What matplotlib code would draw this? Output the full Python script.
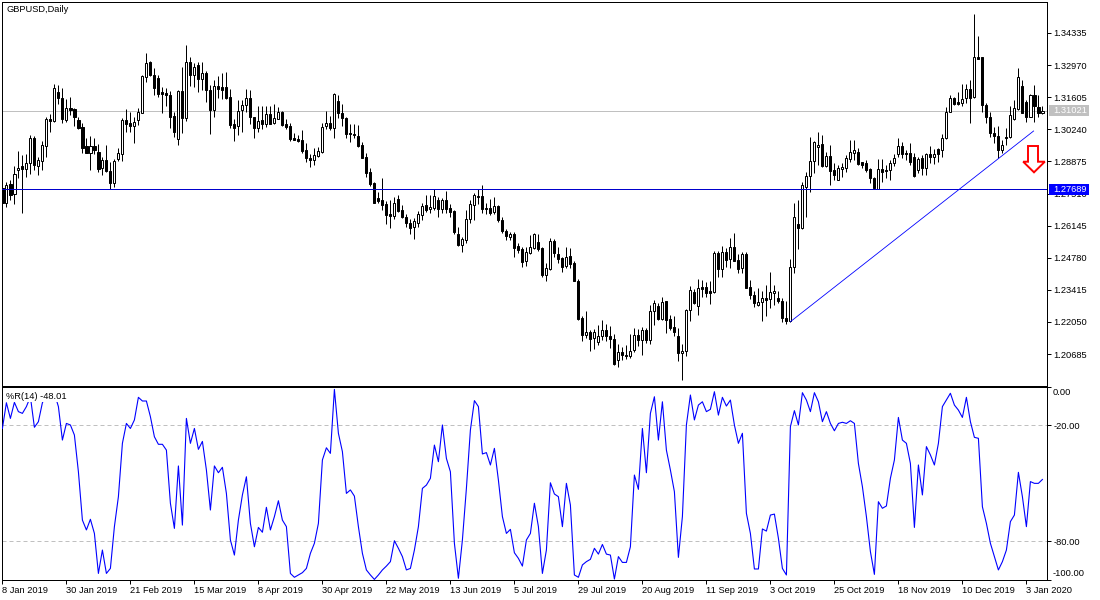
import matplotlib

matplotlib.use("Agg")
import matplotlib.pyplot as plt
from matplotlib.patches import Polygon, Rectangle

plt.rcParams["font.family"] = ["Liberation Sans", "DejaVu Sans"]

# daily GBPUSD candles
highs = [
    1.2809, 1.2802, 1.2809, 1.2868, 1.2932, 1.2915, 1.2919, 1.3000, 1.2997, 1.2908,
    1.2975, 1.3078, 1.3089, 1.3216, 1.3213, 1.3198, 1.3152, 1.3160, 1.3115, 1.3078,
    1.3050, 1.2986, 1.2996, 1.2986, 1.2960, 1.2908, 1.2958, 1.2887, 1.2897, 1.2943,
    1.3071, 1.3111, 1.3099, 1.3075, 1.3113, 1.3255, 1.3350, 1.3316, 1.3284, 1.3255,
    1.3206, 1.3200, 1.3187, 1.3099, 1.3189, 1.3288, 1.3383, 1.3330, 1.3305, 1.3310,
    1.3312, 1.3274, 1.3213, 1.3234, 1.3251, 1.3262, 1.3267, 1.3194, 1.3067, 1.3149,
    1.3149, 1.3194, 1.3189, 1.3078, 1.3121, 1.3121, 1.3123, 1.3121, 1.3132, 1.3119,
    1.3102, 1.3067, 1.3050, 1.3007, 1.3000, 1.3021, 1.2965, 1.2919, 1.2943, 1.2948,
    1.3050, 1.3102, 1.3081, 1.3177, 1.3170, 1.3132, 1.3075, 1.3045, 1.3047, 1.3043,
    1.2969, 1.2925, 1.2858, 1.2800, 1.2759, 1.2817, 1.2720, 1.2724, 1.2735, 1.2745,
    1.2703, 1.2663, 1.2642, 1.2646, 1.2677, 1.2712, 1.2745, 1.2745, 1.2769, 1.2735,
    1.2731, 1.2762, 1.2705, 1.2681, 1.2608, 1.2568, 1.2681, 1.2724, 1.2752, 1.2769,
    1.2786, 1.2710, 1.2728, 1.2735, 1.2703, 1.2650, 1.2601, 1.2589, 1.2589, 1.2540,
    1.2523, 1.2523, 1.2575, 1.2584, 1.2578, 1.2523, 1.2457, 1.2561, 1.2558, 1.2523,
    1.2483, 1.2523, 1.2518, 1.2462, 1.2387, 1.2231, 1.2252, 1.2171, 1.2174, 1.2192,
    1.2214, 1.2195, 1.2188, 1.2154, 1.2112, 1.2100, 1.2107, 1.2154, 1.2178, 1.2174,
    1.2183, 1.2178, 1.2277, 1.2297, 1.2285, 1.2311, 1.2294, 1.2235, 1.2231, 1.2178,
    1.2112, 1.2259, 1.2358, 1.2344, 1.2388, 1.2384, 1.2374, 1.2377, 1.2507, 1.2507,
    1.2528, 1.2518, 1.2561, 1.2584, 1.2494, 1.2504, 1.2501, 1.2384, 1.2338, 1.2348,
    1.2338, 1.2362, 1.2416, 1.2362, 1.2338, 1.2306, 1.2292, 1.2472, 1.2710, 1.2724,
    1.2802, 1.2844, 1.2990, 1.2976, 1.3011, 1.3000, 1.2929, 1.2958, 1.2880, 1.2873,
    1.2880, 1.2915, 1.2979, 1.2979, 1.2943, 1.2887, 1.2894, 1.2858, 1.2823, 1.2897,
    1.2897, 1.2873, 1.2894, 1.2919, 1.2986, 1.2968, 1.2936, 1.2965, 1.2922, 1.2908,
    1.2915, 1.2922, 1.2951, 1.2939, 1.2943, 1.3004, 1.3118, 1.3170, 1.3163, 1.3184,
    1.3217, 1.3217, 1.3234, 1.3514, 1.3421, 1.3333, 1.3135, 1.3099, 1.3033, 1.3036,
    1.2979, 1.3028, 1.3121, 1.3149, 1.3284, 1.3234, 1.3149, 1.3173, 1.3213, 1.3170, 1.3123,
]
lows = [
    1.2695, 1.2695, 1.2724, 1.2707, 1.2816, 1.2667, 1.2823, 1.2834, 1.2851, 1.2830,
    1.2851, 1.2908, 1.3014, 1.3057, 1.3132, 1.3050, 1.3053, 1.3085, 1.3038, 1.3024,
    1.2922, 1.2922, 1.2851, 1.2919, 1.2841, 1.2830, 1.2843, 1.2769, 1.2780, 1.2891,
    1.2891, 1.3014, 1.3014, 1.2965, 1.3041, 1.3095, 1.3227, 1.3251, 1.3170, 1.3163,
    1.3095, 1.3121, 1.3028, 1.2990, 1.2958, 1.3007, 1.3058, 1.3208, 1.3206, 1.3181,
    1.3191, 1.3142, 1.3002, 1.3078, 1.3156, 1.3152, 1.3153, 1.3028, 1.2976, 1.3000,
    1.3014, 1.3099, 1.3047, 1.2985, 1.3014, 1.3026, 1.3033, 1.3047, 1.3047, 1.3067,
    1.3038, 1.3026, 1.2975, 1.2979, 1.2972, 1.2925, 1.2887, 1.2865, 1.2873, 1.2905,
    1.2922, 1.3026, 1.3019, 1.2985, 1.3074, 1.3036, 1.2985, 1.2968, 1.2986, 1.2948,
    1.2901, 1.2823, 1.2783, 1.2710, 1.2712, 1.2681, 1.2623, 1.2606, 1.2643, 1.2674,
    1.2646, 1.2610, 1.2579, 1.2558, 1.2610, 1.2639, 1.2674, 1.2670, 1.2681, 1.2652,
    1.2670, 1.2667, 1.2653, 1.2579, 1.2528, 1.2504, 1.2542, 1.2627, 1.2639, 1.2705,
    1.2670, 1.2664, 1.2660, 1.2663, 1.2629, 1.2585, 1.2554, 1.2554, 1.2483, 1.2497,
    1.2440, 1.2443, 1.2494, 1.2514, 1.2507, 1.2398, 1.2381, 1.2426, 1.2479, 1.2455,
    1.2419, 1.2433, 1.2433, 1.2377, 1.2214, 1.2122, 1.2136, 1.2083, 1.2090, 1.2105,
    1.2126, 1.2122, 1.2096, 1.2022, 1.2015, 1.2044, 1.2046, 1.2051, 1.2079, 1.2103,
    1.2065, 1.2114, 1.2110, 1.2192, 1.2211, 1.2211, 1.2156, 1.2171, 1.2143, 1.2037,
    1.1959, 1.2058, 1.2209, 1.2280, 1.2235, 1.2309, 1.2313, 1.2282, 1.2330, 1.2398,
    1.2394, 1.2440, 1.2436, 1.2462, 1.2415, 1.2415, 1.2348, 1.2303, 1.2270, 1.2273,
    1.2207, 1.2228, 1.2263, 1.2277, 1.2285, 1.2204, 1.2197, 1.2204, 1.2412, 1.2514,
    1.2599, 1.2653, 1.2756, 1.2840, 1.2873, 1.2865, 1.2863, 1.2788, 1.2809, 1.2809,
    1.2823, 1.2843, 1.2887, 1.2894, 1.2873, 1.2858, 1.2844, 1.2795, 1.2769, 1.2769,
    1.2802, 1.2816, 1.2809, 1.2870, 1.2908, 1.2901, 1.2894, 1.2873, 1.2823, 1.2837,
    1.2830, 1.2830, 1.2880, 1.2877, 1.2887, 1.2908, 1.2982, 1.3098, 1.3128, 1.3128,
    1.3121, 1.3135, 1.3050, 1.3157, 1.3322, 1.3099, 1.3050, 1.2993, 1.2965, 1.2901,
    1.2922, 1.2958, 1.2986, 1.3064, 1.3104, 1.3092, 1.3053, 1.3075, 1.3057, 1.3078, 1.3089,
]
opens = [
    1.2773, 1.2712, 1.2792, 1.2749, 1.2849, 1.2868, 1.2857, 1.2880, 1.2987, 1.2870,
    1.2891, 1.2955, 1.3068, 1.3061, 1.3183, 1.3156, 1.3064, 1.3115, 1.3109, 1.3064,
    1.3034, 1.2953, 1.2925, 1.2953, 1.2928, 1.2861, 1.2894, 1.2847, 1.2796, 1.2898,
    1.2921, 1.3062, 1.3051, 1.3036, 1.3064, 1.3095, 1.3248, 1.3310, 1.3255, 1.3242,
    1.3181, 1.3180, 1.3170, 1.3079, 1.2982, 1.3186, 1.3070, 1.3310, 1.3257, 1.3298,
    1.3240, 1.3262, 1.3191, 1.3108, 1.3207, 1.3203, 1.3203, 1.3160, 1.3047, 1.3036,
    1.3104, 1.3128, 1.3156, 1.3075, 1.3031, 1.3064, 1.3047, 1.3089, 1.3050, 1.3068,
    1.3098, 1.3047, 1.3038, 1.2986, 1.2983, 1.2979, 1.2936, 1.2901, 1.2895, 1.2911,
    1.2929, 1.3036, 1.3050, 1.3031, 1.3143, 1.3092, 1.3072, 1.3007, 1.3003, 1.2994,
    1.2958, 1.2905, 1.2841, 1.2796, 1.2731, 1.2722, 1.2705, 1.2664, 1.2657, 1.2727,
    1.2681, 1.2653, 1.2626, 1.2610, 1.2627, 1.2660, 1.2701, 1.2683, 1.2690, 1.2724,
    1.2687, 1.2722, 1.2688, 1.2677, 1.2579, 1.2534, 1.2554, 1.2644, 1.2701, 1.2741,
    1.2741, 1.2688, 1.2688, 1.2673, 1.2698, 1.2639, 1.2593, 1.2567, 1.2579, 1.2527,
    1.2514, 1.2462, 1.2500, 1.2521, 1.2544, 1.2520, 1.2405, 1.2432, 1.2548, 1.2493,
    1.2476, 1.2442, 1.2484, 1.2455, 1.2378, 1.2221, 1.2151, 1.2161, 1.2136, 1.2119,
    1.2143, 1.2170, 1.2144, 1.2132, 1.2042, 1.2076, 1.2063, 1.2058, 1.2086, 1.2149,
    1.2126, 1.2170, 1.2130, 1.2251, 1.2273, 1.2218, 1.2293, 1.2217, 1.2183, 1.2146,
    1.2071, 1.2083, 1.2255, 1.2331, 1.2272, 1.2354, 1.2354, 1.2336, 1.2334, 1.2497,
    1.2429, 1.2501, 1.2472, 1.2523, 1.2469, 1.2433, 1.2493, 1.2353, 1.2321, 1.2279,
    1.2289, 1.2306, 1.2302, 1.2326, 1.2306, 1.2293, 1.2221, 1.2207, 1.2438, 1.2622,
    1.2606, 1.2779, 1.2827, 1.2888, 1.2948, 1.2962, 1.2870, 1.2911, 1.2849, 1.2809,
    1.2856, 1.2861, 1.2897, 1.2925, 1.2928, 1.2884, 1.2880, 1.2854, 1.2817, 1.2772,
    1.2856, 1.2851, 1.2849, 1.2880, 1.2921, 1.2953, 1.2925, 1.2925, 1.2907, 1.2851,
    1.2900, 1.2861, 1.2919, 1.2908, 1.2939, 1.2936, 1.2989, 1.3099, 1.3156, 1.3139,
    1.3135, 1.3157, 1.3194, 1.3160, 1.3333, 1.3330, 1.3128, 1.3075, 1.3010, 1.2996,
    1.2934, 1.2993, 1.2993, 1.3068, 1.3109, 1.3208, 1.3138, 1.3078, 1.3170, 1.3118, 1.3092,
]
closes = [
    1.2712, 1.2788, 1.2745, 1.2834, 1.2858, 1.2857, 1.2880, 1.2987, 1.2874, 1.2894,
    1.2958, 1.3067, 1.3061, 1.3200, 1.3155, 1.3067, 1.3115, 1.3108, 1.3078, 1.3028,
    1.2945, 1.2925, 1.2953, 1.2936, 1.2857, 1.2894, 1.2846, 1.2796, 1.2890, 1.2922,
    1.3062, 1.3047, 1.3036, 1.3054, 1.3096, 1.3250, 1.3305, 1.3255, 1.3201, 1.3173,
    1.3174, 1.3170, 1.3077, 1.3014, 1.3186, 1.3071, 1.3310, 1.3257, 1.3288, 1.3240,
    1.3264, 1.3189, 1.3108, 1.3207, 1.3194, 1.3191, 1.3155, 1.3044, 1.3028, 1.3101,
    1.3126, 1.3156, 1.3075, 1.3031, 1.3060, 1.3047, 1.3088, 1.3047, 1.3072, 1.3096,
    1.3043, 1.3033, 1.2982, 1.2979, 1.2975, 1.2932, 1.2900, 1.2895, 1.2914, 1.2931,
    1.3033, 1.3050, 1.3031, 1.3174, 1.3095, 1.3072, 1.3002, 1.3006, 1.3000, 1.2955,
    1.2904, 1.2840, 1.2793, 1.2712, 1.2720, 1.2704, 1.2661, 1.2657, 1.2710, 1.2678,
    1.2653, 1.2627, 1.2606, 1.2633, 1.2663, 1.2698, 1.2681, 1.2693, 1.2739, 1.2683,
    1.2724, 1.2686, 1.2673, 1.2588, 1.2534, 1.2557, 1.2642, 1.2705, 1.2745, 1.2734,
    1.2687, 1.2687, 1.2670, 1.2698, 1.2637, 1.2593, 1.2572, 1.2579, 1.2521, 1.2511,
    1.2460, 1.2501, 1.2523, 1.2578, 1.2517, 1.2405, 1.2433, 1.2548, 1.2500, 1.2474,
    1.2440, 1.2483, 1.2452, 1.2379, 1.2219, 1.2151, 1.2161, 1.2134, 1.2160, 1.2143,
    1.2170, 1.2143, 1.2134, 1.2024, 1.2076, 1.2063, 1.2058, 1.2083, 1.2149, 1.2126,
    1.2170, 1.2126, 1.2251, 1.2285, 1.2218, 1.2289, 1.2215, 1.2181, 1.2164, 1.2071,
    1.2083, 1.2255, 1.2340, 1.2287, 1.2348, 1.2347, 1.2330, 1.2330, 1.2497, 1.2429,
    1.2501, 1.2470, 1.2523, 1.2466, 1.2432, 1.2493, 1.2351, 1.2321, 1.2287, 1.2289,
    1.2306, 1.2300, 1.2331, 1.2336, 1.2292, 1.2221, 1.2207, 1.2438, 1.2650, 1.2606,
    1.2786, 1.2827, 1.2888, 1.2969, 1.2958, 1.2870, 1.2911, 1.2847, 1.2830, 1.2858,
    1.2863, 1.2902, 1.2926, 1.2935, 1.2877, 1.2873, 1.2851, 1.2816, 1.2773, 1.2854,
    1.2844, 1.2846, 1.2880, 1.2901, 1.2953, 1.2919, 1.2919, 1.2885, 1.2826, 1.2897,
    1.2861, 1.2918, 1.2908, 1.2918, 1.2919, 1.2989, 1.3099, 1.3156, 1.3133, 1.3132,
    1.3152, 1.3194, 1.3156, 1.3333, 1.3325, 1.3128, 1.3075, 1.3007, 1.2996, 1.2936,
    1.2958, 1.2986, 1.3085, 1.3113, 1.3245, 1.3095, 1.3075, 1.3170, 1.3121, 1.3092, 1.3102,
]
williams_r = [
    -21.6, -8.3, -16.4, -8.1, -12.9, -13.8, -10.3, -5.2, -21.0, -18.1,
    -8.3, -4.3, -3.4, -3.4, -10.3, -27.6, -19.0, -19.8, -25.0, -44.0,
    -69.0, -74.1, -68.6, -75.9, -96.6, -84.5, -96.6, -94.0, -72.4, -56.9,
    -29.3, -19.0, -21.6, -17.2, -5.5, -7.4, -7.4, -15.5, -25.9, -29.8,
    -29.8, -32.8, -60.3, -73.3, -41.0, -71.6, -16.4, -29.3, -21.6, -32.4,
    -28.3, -43.1, -63.8, -41.0, -44.5, -41.7, -55.2, -79.3, -87.1, -69.0,
    -56.0, -46.6, -70.7, -82.8, -72.8, -75.3, -62.4, -74.1, -67.2, -59.0,
    -69.0, -72.4, -96.6, -98.6, -97.4, -96.2, -94.0, -86.2, -81.0, -70.7,
    -37.9, -31.6, -34.5, -1.4, -24.1, -33.6, -55.2, -53.4, -56.6, -72.4,
    -86.2, -94.8, -97.4, -99.7, -97.4, -94.8, -92.8, -90.5, -79.7, -83.6,
    -87.9, -94.8, -94.0, -84.5, -72.4, -52.6, -50.9, -47.4, -30.2, -38.8,
    -19.8, -37.1, -44.0, -81.0, -99.1, -79.3, -52.6, -22.4, -7.2, -10.3,
    -34.8, -34.1, -40.5, -31.9, -48.3, -67.2, -75.9, -73.8, -85.9, -88.8,
    -92.8, -79.3, -75.9, -60.3, -72.4, -96.6, -84.5, -49.7, -55.5, -56.9,
    -72.4, -50.0, -61.2, -97.4, -98.6, -92.2, -90.5, -89.3, -83.6, -86.6,
    -81.6, -86.6, -87.1, -99.5, -87.9, -90.9, -90.9, -82.8, -45.7, -53.1,
    -21.6, -44.5, -13.8, -5.2, -27.6, -7.8, -32.8, -43.1, -54.3, -88.3,
    -67.2, -19.8, -4.3, -17.2, -9.5, -7.8, -12.9, -11.7, -2.6, -14.7,
    -5.5, -10.0, -6.9, -19.8, -29.3, -24.1, -65.5, -75.9, -94.3, -94.3,
    -73.6, -74.7, -66.4, -65.9, -78.4, -94.0, -97.4, -20.7, -12.4, -19.8,
    -3.1, -6.9, -12.9, -3.1, -7.8, -18.1, -12.9, -19.0, -22.8, -19.0,
    -18.4, -19.0, -17.6, -19.0, -39.7, -51.7, -67.2, -85.3, -97.1, -59.5,
    -62.9, -61.7, -47.4, -37.9, -15.9, -27.6, -29.3, -39.7, -72.8, -40.5,
    -56.0, -31.0, -35.3, -40.5, -29.3, -10.3, -6.9, -3.4, -9.5, -12.1,
    -15.9, -5.5, -18.1, -26.2, -26.7, -62.1, -70.7, -81.0, -87.9, -94.8,
    -90.5, -84.5, -69.8, -66.4, -44.3, -56.9, -72.4, -49.1, -50.0, -50.0, -48.0,
]

price_ticks = [1.34335, 1.32970, 1.31605, 1.30240, 1.28875, 1.27510, 1.26145, 1.24780, 1.23415, 1.22050, 1.20685]
wr_ticks = [0, -20, -80, -100]
date_ticks = [0, 16, 32, 48, 64, 80, 96, 112, 128, 144, 160, 176, 192, 208, 224, 240, 256]
date_labels = ["8 Jan 2019", "30 Jan 2019", "21 Feb 2019", "15 Mar 2019", "8 Apr 2019", "30 Apr 2019",
               "22 May 2019", "13 Jun 2019", "5 Jul 2019", "29 Jul 2019", "20 Aug 2019", "11 Sep 2019",
               "3 Oct 2019", "25 Oct 2019", "18 Nov 2019", "10 Dec 2019", "3 Jan 2020"]

last_price = 1.31021
support = 1.27689
trend_x = [197, 257.8]
trend_y = [1.22059, 1.30168]
arrow_x = [256.4, 258.9, 258.9, 260.6, 257.9, 255.2, 256.4]
arrow_y = [1.29530, 1.29530, 1.28862, 1.28862, 1.28411, 1.28862, 1.28862]

W, H = 1100, 600
PX = 0.72  # one pixel in points at dpi 100
FS = 6.7
LEFT = 2.4  # just under the half pixel, so snapping lands wicks on the right column
x = list(range(len(closes)))

fig = plt.figure(figsize=(W / 100, H / 100), dpi=100, facecolor="white")
ax = fig.add_axes([LEFT / W, (H - 385.5) / H, 1045 / W, 383.5 / H])
ax2 = fig.add_axes([LEFT / W, (H - 580) / H, 1045 / W, 193.3 / H])

# candles
ax.vlines(x, lows, highs, color="black", lw=PX, zorder=2)
bottoms = [min(o, c) for o, c in zip(opens, closes)]
heights = [abs(c - o) for o, c in zip(opens, closes)]
faces = ["white" if c >= o else "black" for o, c in zip(opens, closes)]
ax.bar(x, heights, bottom=bottoms, width=0.55, color=faces, edgecolor="black", lw=PX, zorder=3)

ax.axhline(last_price, color="#c0c0c0", lw=PX, zorder=1)
ax.axhline(support, color="#0000cd", lw=PX, zorder=4)
ax.plot(trend_x, trend_y, color="#0000ff", lw=0.6, zorder=4)
ax.add_patch(Polygon(list(zip(arrow_x, arrow_y)), closed=True, facecolor="white", edgecolor="#ff0000", lw=1.4, zorder=5))

ax.set_xlim(0, 261.25)
ax.set_ylim(1.34335 - 352.5 * 0.00042523, 1.34335 + 31 * 0.00042523)
ax.set_xticks([])
ax.yaxis.tick_right()
ax.set_yticks(price_ticks)
ax.set_yticklabels([f"{t:.5f}" for t in price_ticks])
ax.tick_params(axis="y", length=2.9, width=PX, pad=1.5, labelsize=FS)

# price tags on the right
row = 0.00042523
tag_x = (1049 - LEFT) / 1045
tag_w = 40 / 1045
text_x = (1053 - LEFT) / 1045
for price, col in [(last_price, "#c0c0c0"), (support, "#0000ff")]:
    ax.add_patch(Rectangle((tag_x, price - 5.5 * row), tag_w, 11 * row, transform=ax.get_yaxis_transform(),
                           facecolor=col, edgecolor="none", clip_on=False, zorder=6))
    ax.text(text_x, price, f"{price:.5f}", transform=ax.get_yaxis_transform(), color="white",
            fontsize=FS, va="center", ha="left", clip_on=False, zorder=7)

# %R panel
ax2.plot(x, williams_r, color="#0000ff", lw=0.8, zorder=3)
for level in (-20, -80):
    ax2.axhline(level, color="#c0c0c0", lw=PX, dashes=(4, 3), zorder=1)
ax2.set_xlim(0, 261.25)
ax2.set_ylim(-100, 0)
ax2.yaxis.tick_right()
ax2.set_yticks(wr_ticks)
ax2.set_yticklabels(["", "-20.00", "-80.00", ""])
# top and bottom labels sit inside the panel
ax2.text(text_x, -2.9, "0.00", transform=ax2.get_yaxis_transform(), fontsize=FS, va="center", ha="left", clip_on=False)
ax2.text(text_x, -96.6, "-100.00", transform=ax2.get_yaxis_transform(), fontsize=FS, va="center", ha="left", clip_on=False)
ax2.set_xticks(date_ticks)
ax2.set_xticklabels(date_labels, ha="left")
ax2.tick_params(axis="y", length=2.9, width=PX, pad=1.5, labelsize=FS)
ax2.tick_params(axis="x", length=2.9, width=PX, pad=1.5, labelsize=FS)

for a in (ax, ax2):
    for s in a.spines.values():
        s.set_linewidth(PX)
        s.set_color("black")

# the label box hides the line behind it
fig.add_artist(Rectangle((3 / W, (H - 402) / H), 63 / W, 14 / H, transform=fig.transFigure,
                         facecolor="white", edgecolor="none", zorder=5))
fig.text(6 / W, 1 - 396.7 / H, "%R(14) -48.01", fontsize=FS, va="center", ha="left", zorder=6)
fig.text(6.5 / W, 1 - 10 / H, "GBPUSD,Daily", fontsize=FS, va="center", ha="left", zorder=6)

fig.savefig("out.png", dpi=100)
